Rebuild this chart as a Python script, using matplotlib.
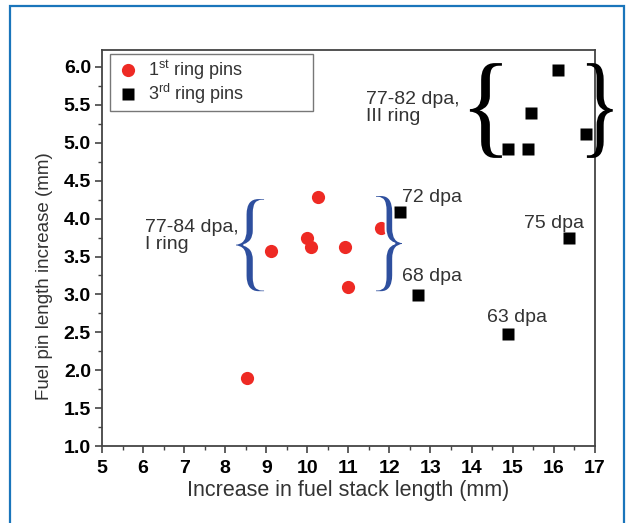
import matplotlib
matplotlib.use("Agg")
import matplotlib.pyplot as plt
from matplotlib.patches import Rectangle, PathPatch
from matplotlib.textpath import TextPath
from matplotlib.font_manager import FontProperties
from matplotlib.transforms import Affine2D
from matplotlib.ticker import MultipleLocator, FormatStrFormatter

plt.rcParams["font.family"] = ["Liberation Sans", "DejaVu Sans"]
plt.rcParams["mathtext.fontset"] = "custom"
plt.rcParams["mathtext.rm"] = "Liberation Sans"

# 1st ring pins (red)
ring1_x = [8.52, 9.12, 10.0, 10.08, 10.27, 10.92, 11.0, 11.8]
ring1_y = [1.90, 3.57, 3.75, 3.63, 4.28, 3.63, 3.10, 3.87]

# 3rd ring pins (black)
ring3_x = [12.25, 12.70, 14.88, 16.37, 14.88, 15.37, 15.45, 16.10, 16.78]
ring3_y = [4.09, 2.99, 2.48, 3.74, 4.92, 4.92, 5.39, 5.96, 5.12]

# annotations: text, x, y (data units)
notes = [
    ("77-84 dpa,\nI ring", 6.05, 3.77),
    ("77-82 dpa,\nIII ring", 11.43, 5.46),
    ("72 dpa", 12.30, 4.28),
    ("75 dpa", 15.27, 3.93),
    ("68 dpa", 12.30, 3.24),
    ("63 dpa", 14.37, 2.69),
]

# braces: char, x0, x1, y0, y1, color
braces = [
    ("{", 8.24, 8.97, 3.03, 4.27, "#2e4f9e"),
    ("}", 11.65, 12.33, 3.03, 4.31, "#2e4f9e"),
    ("{", 13.96, 14.74, 4.80, 6.05, "black"),
    ("}", 16.81, 17.44, 4.80, 6.05, "black"),
]

fig = plt.figure(figsize=(6.26, 5.23), dpi=100)
ax = fig.add_axes([0.163, 0.147, 0.787, 0.757])

# outer blue frame
fig.patches.append(Rectangle((10 / 626, -0.05), 614 / 626, 1.05 - 6 / 523,
                             transform=fig.transFigure, fill=False,
                             ec="#1a75bb", lw=1.6))

ax.plot(ring1_x, ring1_y, "o", color="#ee2a24", ms=9.5, mec="none",
        label=r"1$^{\rm st}$ ring pins")
ax.plot(ring3_x, ring3_y, "s", color="black", ms=8, mec="none",
        label=r"3$^{\rm rd}$ ring pins")


def brace(ch, x0, x1, y0, y1, color, thin=False):
    tp = TextPath((0, 0), ch, size=1, prop=FontProperties(family="Liberation Serif"))
    ext = tp.get_extents()
    tr = (Affine2D().translate(-ext.x0, -ext.y0)
          .scale((x1 - x0) / ext.width, (y1 - y0) / ext.height)
          .translate(x0, y0))
    ax.add_patch(PathPatch(tr.transform_path(tp), fc=color,
                           ec="white" if thin else "none", lw=1.4 if thin else 0,
                           clip_on=False, zorder=3))


for ch, x0, x1, y0, y1, c in braces:
    brace(ch, x0, x1, y0, y1, c, thin=(c != "black"))

for txt, x, y in notes:
    ax.text(x, y, txt, fontsize=14, color="#333333", ha="left", va="center",
            linespacing=1.0)

ax.set_xlim(5, 17)
ax.set_ylim(1.0, 6.22)
ax.xaxis.set_major_locator(MultipleLocator(1))
ax.xaxis.set_minor_locator(MultipleLocator(0.5))
ax.yaxis.set_major_locator(MultipleLocator(0.5))
ax.yaxis.set_minor_locator(MultipleLocator(0.25))
ax.yaxis.set_major_formatter(FormatStrFormatter("%.1f"))
ax.tick_params(which="major", direction="out", length=5, width=1.2,
               labelsize=14, color="#444444")
ax.tick_params(axis="x", which="major", pad=5)
ax.tick_params(axis="y", which="major", pad=3)
ax.tick_params(which="minor", direction="out", length=3, width=1.0, color="#444444")
for lbl in ax.get_xticklabels() + ax.get_yticklabels():
    lbl.set_fontweight("bold")
for s in ax.spines.values():
    s.set_color("#444444")
    s.set_linewidth(1.3)

ax.set_xlabel("Increase in fuel stack length (mm)", fontsize=15.5, color="#333333")
ax.set_ylabel("Fuel pin length increase (mm)", fontsize=13.5, color="#333333")
ax.xaxis.set_label_coords(0.5, -0.085)
ax.yaxis.set_label_coords(-0.10, 0.43)

leg = ax.legend(loc="upper left", bbox_to_anchor=(0.016, 0.858, 0.412, 0.132),
                mode="expand", borderaxespad=0, fontsize=13, frameon=True,
                fancybox=False, edgecolor="#555555", handlelength=1.5,
                handletextpad=0.35, labelspacing=0.0, borderpad=0.25)
leg.get_frame().set_linewidth(1.0)
for t in leg.get_texts():
    t.set_color("#333333")

fig.savefig("out.png", dpi=100)
